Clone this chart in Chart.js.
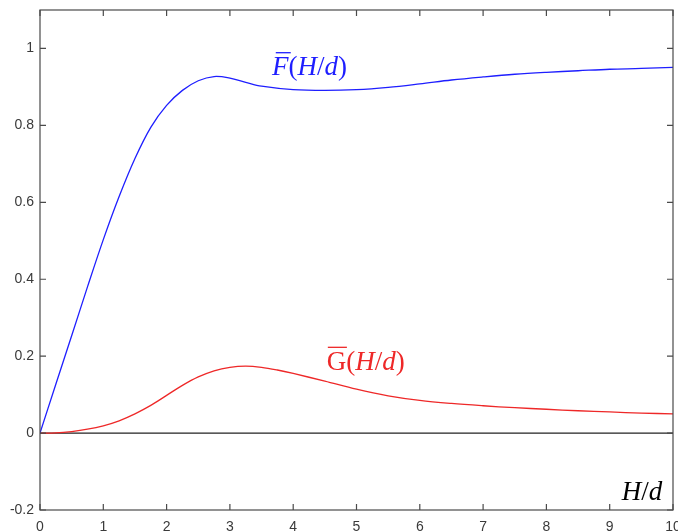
<!DOCTYPE html>
<html><head><meta charset="utf-8">
<script src="https://cdn.jsdelivr.net/npm/chart.js@4"></script>
<style>html,body{margin:0;padding:0;background:#fff;overflow:hidden;}</style>
</head><body>
<canvas id="c" width="678" height="531"></canvas>
<script>
// ---- data ----
const xF = [0, 0.25, 0.5, 0.75, 1, 1.25, 1.5, 1.75, 2, 2.25, 2.5, 2.75, 3, 3.25, 3.5, 4, 4.5, 5, 5.5, 6, 6.5, 7, 7.5, 8, 8.5, 9, 9.5, 10];
const yF = [0, 0.127, 0.253, 0.38, 0.503, 0.615, 0.714, 0.795, 0.852, 0.891, 0.916, 0.927, 0.923, 0.912, 0.902, 0.893, 0.891, 0.893, 0.899, 0.908, 0.918, 0.926, 0.933, 0.938, 0.942, 0.946, 0.948, 0.951];
const xG = [0, 0.25, 0.5, 0.75, 1, 1.25, 1.5, 1.75, 2, 2.25, 2.5, 2.75, 3, 3.25, 3.5, 3.75, 4, 4.5, 5, 5.5, 6, 6.5, 7, 7.5, 8, 8.5, 9, 9.5, 10];
const yG = [0, 0.0005, 0.004, 0.010, 0.019, 0.032, 0.05, 0.072, 0.098, 0.124, 0.146, 0.162, 0.171, 0.174, 0.171, 0.164, 0.155, 0.135, 0.114, 0.097, 0.085, 0.077, 0.071, 0.066, 0.062, 0.058, 0.055, 0.052, 0.050];
const xTicks = [0, 1, 2, 3, 4, 5, 6, 7, 8, 9, 10];
const yTicks = [-0.2, 0, 0.2, 0.4, 0.6, 0.8, 1];
const xRange = [0, 10];
const yRange = [-0.2, 1.1];
const labelF = {x: 3.665, y: 0.93};
const labelG = {x: 4.53, y: 0.164};
const labelX = {x: 9.19, y: -0.173};

const BLUE = 'rgb(30,30,255)';
const RED = 'rgb(238,40,40)';
const AXIS = '#4a4a4a';

function pts(xs, ys) { return xs.map((x, i) => ({x: x, y: ys[i]})); }

function drawRich(ctx, x, y, parts, color, size) {
  ctx.save();
  ctx.fillStyle = color;
  ctx.strokeStyle = color;
  ctx.textBaseline = 'alphabetic';
  ctx.textAlign = 'left';
  let cx = x;
  for (const p of parts) {
    ctx.font = (p.it ? 'italic ' : '') + size + 'px "Liberation Serif", "Times New Roman", serif';
    const w = ctx.measureText(p.t).width;
    ctx.fillText(p.t, cx, y);
    if (p.bar) {
      ctx.lineWidth = 1.3;
      ctx.beginPath();
      const off = p.it ? size * 0.14 : size * 0.04;
      ctx.moveTo(cx + off, y - size * 0.84);
      ctx.lineTo(cx + w + off * 0.6, y - size * 0.84);
      ctx.stroke();
    }
    cx += w;
  }
  ctx.restore();
}

const framePlugin = {
  id: 'frame',
  beforeDatasetsDraw(chart) {
    const {ctx, chartArea: a, scales: {x, y}} = chart;
    ctx.save();
    const y0 = y.getPixelForValue(0);
    ctx.strokeStyle = '#222';
    ctx.lineWidth = 1.4;
    ctx.beginPath();
    ctx.moveTo(a.left, y0); ctx.lineTo(a.right, y0);
    ctx.stroke();
    ctx.restore();
  },
  afterDatasetsDraw(chart) {
    const {ctx, chartArea: a, scales: {x, y}} = chart;
    ctx.save();
    ctx.strokeStyle = AXIS;
    ctx.lineWidth = 1.2;
    ctx.strokeRect(a.left, a.top, a.right - a.left, a.bottom - a.top);
    const tl = 6;
    ctx.beginPath();
    for (const v of xTicks) {
      const px = x.getPixelForValue(v);
      ctx.moveTo(px, a.bottom); ctx.lineTo(px, a.bottom - tl);
      ctx.moveTo(px, a.top); ctx.lineTo(px, a.top + tl);
    }
    for (const v of yTicks) {
      const py = y.getPixelForValue(v);
      ctx.moveTo(a.left, py); ctx.lineTo(a.left + tl, py);
      ctx.moveTo(a.right, py); ctx.lineTo(a.right - tl, py);
    }
    ctx.stroke();
    ctx.restore();

    drawRich(ctx, x.getPixelForValue(labelF.x), y.getPixelForValue(labelF.y),
      [{t:'F', it:true, bar:true}, {t:'('}, {t:'H', it:true}, {t:'/'}, {t:'d', it:true}, {t:')'}], BLUE, 27);
    drawRich(ctx, x.getPixelForValue(labelG.x), y.getPixelForValue(labelG.y),
      [{t:'G', bar:true}, {t:'('}, {t:'H', it:true}, {t:'/'}, {t:'d', it:true}, {t:')'}], RED, 27);
    drawRich(ctx, x.getPixelForValue(labelX.x), y.getPixelForValue(labelX.y),
      [{t:'H', it:true}, {t:'/'}, {t:'d', it:true}], '#000', 27);
  }
};

new Chart(document.getElementById('c'), {
  type: 'scatter',
  data: {
    datasets: [
      {data: pts(xF, yF), borderColor: BLUE, borderWidth: 1.3, showLine: true, pointRadius: 0, tension: 0.35},
      {data: pts(xG, yG), borderColor: RED, borderWidth: 1.3, showLine: true, pointRadius: 0, tension: 0.35}
    ]
  },
  options: {
    responsive: false,
    animation: false,
    devicePixelRatio: 1,
    layout: {padding: {top: 10, right: 5, left: 0, bottom: 0}},
    plugins: {legend: {display: false}, tooltip: {enabled: false}},
    scales: {
      x: {
        type: 'linear', min: xRange[0], max: xRange[1],
        grid: {display: false, drawTicks: false},
        border: {display: false},
        afterBuildTicks(s) { s.ticks = xTicks.map(v => ({value: v})); },
        afterFit(s) { s.height = 21; s.paddingLeft = 0; s.paddingRight = 0; },
        ticks: {color: '#3a3a3a', padding: 9, font: {family: '"Liberation Sans", Arial, sans-serif', size: 14}, maxRotation: 0, autoSkip: false,
          callback: v => String(v)}
      },
      y: {
        type: 'linear', min: yRange[0], max: yRange[1],
        grid: {display: false, drawTicks: false},
        border: {display: false},
        afterBuildTicks(s) { s.ticks = yTicks.map(v => ({value: v})); },
        afterFit(s) { s.width = 40; s.paddingTop = 0; s.paddingBottom = 0; },
        ticks: {color: '#3a3a3a', padding: 6, font: {family: '"Liberation Sans", Arial, sans-serif', size: 14}, autoSkip: false,
          callback: v => String(Math.round(v * 10) / 10)}
      }
    }
  },
  plugins: [framePlugin]
});
</script>
</body></html>
